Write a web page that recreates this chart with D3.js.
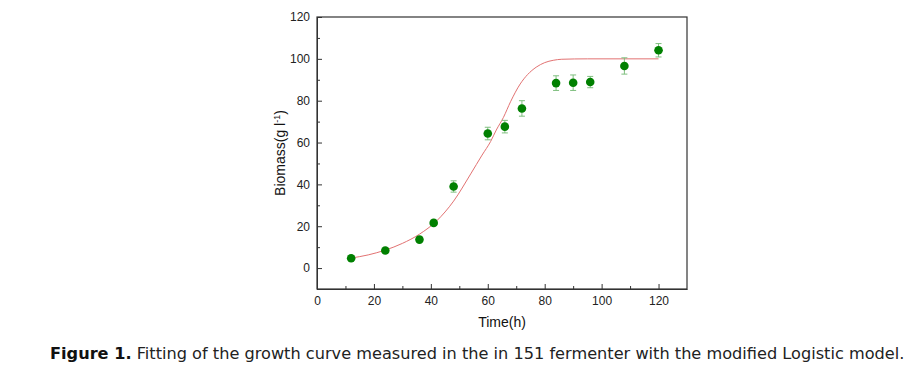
<!DOCTYPE html>
<html>
<head>
<meta charset="utf-8">
<script src="https://cdn.jsdelivr.net/npm/d3@7"></script>
<style>
  body { margin: 0; background: #fff; }
  .axis text { font-family: "Liberation Sans", Arial, sans-serif; font-size: 12px; fill: #222; }
  .axis path, .axis line { stroke: #333; }
</style>
</head>
<body>
<div id="chart"></div>
<script>
// measured points
var times = [12, 24, 36, 41, 48, 60, 66, 72, 84, 90, 96, 108, 120];
var biomass = [4.7, 8.4, 13.6, 21.6, 39.0, 64.3, 67.6, 76.3, 88.4, 88.6, 88.9, 96.6, 104.1];
var errors = [0.6, 1.0, 1.0, 1.2, 2.7, 3.0, 3.0, 3.7, 3.5, 3.7, 2.7, 3.9, 3.2];

// fitted logistic curve
var fitTimes = [12, 18, 24, 30, 36, 42, 48, 54, 58, 61, 63, 65.5, 68, 71.4, 74, 77, 80, 83, 86, 95, 120];
var fitValues = [4.8, 6.3, 8.6, 11.8, 16.2, 22.5, 32, 45, 54, 60.5, 66, 72, 79.5, 88, 92.5, 96, 98.2, 99.3, 99.8, 100, 100];

var xTicks = [0, 20, 40, 60, 80, 100, 120];
var yTicks = [0, 20, 40, 60, 80, 100, 120];

var W = 924, H = 369,
    margin = { top: 17, right: 237, bottom: 80, left: 317 },
    width = W - margin.left - margin.right,
    height = H - margin.top - margin.bottom;

var svg = d3.select("#chart").append("svg")
    .attr("width", W)
    .attr("height", H);

var g = svg.append("g")
    .attr("transform", "translate(" + margin.left + "," + margin.top + ")");

var x = d3.scaleLinear().domain([0, 130]).range([0, width]);
var y = d3.scaleLinear().domain([-10, 120]).range([height, 0]);

// minor ticks (inward)
g.append("g")
    .attr("class", "axis")
    .attr("transform", "translate(0," + height + ")")
    .call(d3.axisBottom(x).tickValues(d3.range(10, 130, 20)).tickSize(-3).tickFormat(""))
    .call(function (a) { a.select(".domain").remove(); });

g.append("g")
    .attr("class", "axis")
    .call(d3.axisLeft(y).tickValues(d3.range(-10, 120, 20)).tickSize(-3).tickFormat(""))
    .call(function (a) { a.select(".domain").remove(); });

// major axes
g.append("g")
    .attr("class", "axis")
    .attr("transform", "translate(0," + height + ")")
    .call(d3.axisBottom(x).tickValues(xTicks).tickSizeInner(-5).tickSizeOuter(0).tickPadding(7));

g.append("g")
    .attr("class", "axis")
    .call(d3.axisLeft(y).tickValues(yTicks).tickSizeInner(-5).tickSizeOuter(0).tickPadding(7));

// frame
g.append("rect")
    .attr("width", width)
    .attr("height", height)
    .attr("fill", "none")
    .attr("stroke", "#333")
    .attr("stroke-width", 1.2);

// fitted curve
var fit = fitTimes.map(function (t, i) { return [t, fitValues[i]]; });
g.append("path")
    .datum(fit)
    .attr("fill", "none")
    .attr("stroke", "#e27272")
    .attr("stroke-width", 1)
    .attr("d", d3.line()
        .x(function (d) { return x(d[0]); })
        .y(function (d) { return y(d[1]); })
        .curve(d3.curveMonotoneX));

// error bars
var pts = times.map(function (t, i) { return { t: t, v: biomass[i], e: errors[i] }; });
var eb = g.selectAll(".err").data(pts).enter().append("g")
    .attr("class", "err")
    .attr("stroke", "#7fbf7f")
    .attr("stroke-width", 1);

eb.append("line")
    .attr("x1", function (d) { return x(d.t); })
    .attr("x2", function (d) { return x(d.t); })
    .attr("y1", function (d) { return y(d.v - d.e); })
    .attr("y2", function (d) { return y(d.v + d.e); });
eb.append("line")
    .attr("x1", function (d) { return x(d.t) - 3; })
    .attr("x2", function (d) { return x(d.t) + 3; })
    .attr("y1", function (d) { return y(d.v - d.e); })
    .attr("y2", function (d) { return y(d.v - d.e); });
eb.append("line")
    .attr("x1", function (d) { return x(d.t) - 3; })
    .attr("x2", function (d) { return x(d.t) + 3; })
    .attr("y1", function (d) { return y(d.v + d.e); })
    .attr("y2", function (d) { return y(d.v + d.e); });

g.selectAll(".dot").data(pts).enter().append("circle")
    .attr("class", "dot")
    .attr("cx", function (d) { return x(d.t); })
    .attr("cy", function (d) { return y(d.v); })
    .attr("r", 4.3)
    .attr("fill", "#008000");

// axis titles
g.append("text")
    .attr("x", width / 2)
    .attr("y", height + 38)
    .attr("text-anchor", "middle")
    .style("font-family", "Liberation Sans, Arial, sans-serif")
    .style("font-size", "14px")
    .attr("fill", "#111")
    .text("Time(h)");

var yl = g.append("text")
    .attr("transform", "translate(-32," + (height / 2) + ") rotate(-90)")
    .attr("text-anchor", "middle")
    .style("font-family", "Liberation Sans, Arial, sans-serif")
    .style("font-size", "14px")
    .attr("fill", "#111");
yl.append("tspan").text("Biomass(g l");
yl.append("tspan").attr("dy", -5).style("font-size", "9px").text("-1");
yl.append("tspan").attr("dy", 5).text(")");

// caption, sized to span the same width as in the figure
var cap = svg.append("text")
    .attr("x", 50)
    .attr("y", 359)
    .style("font-family", "DejaVu Sans, Verdana, sans-serif")
    .style("font-size", "15px")
    .attr("fill", "#222");
cap.append("tspan").style("font-weight", "bold").attr("fill", "#111").text("Figure 1.");
cap.append("tspan").text(" Fitting of the growth curve measured in the in 151 fermenter with the modified Logistic model.");
var capW = cap.node().getComputedTextLength();
cap.style("font-size", (15 * 855 / capW).toFixed(2) + "px");
</script>
</body>
</html>
